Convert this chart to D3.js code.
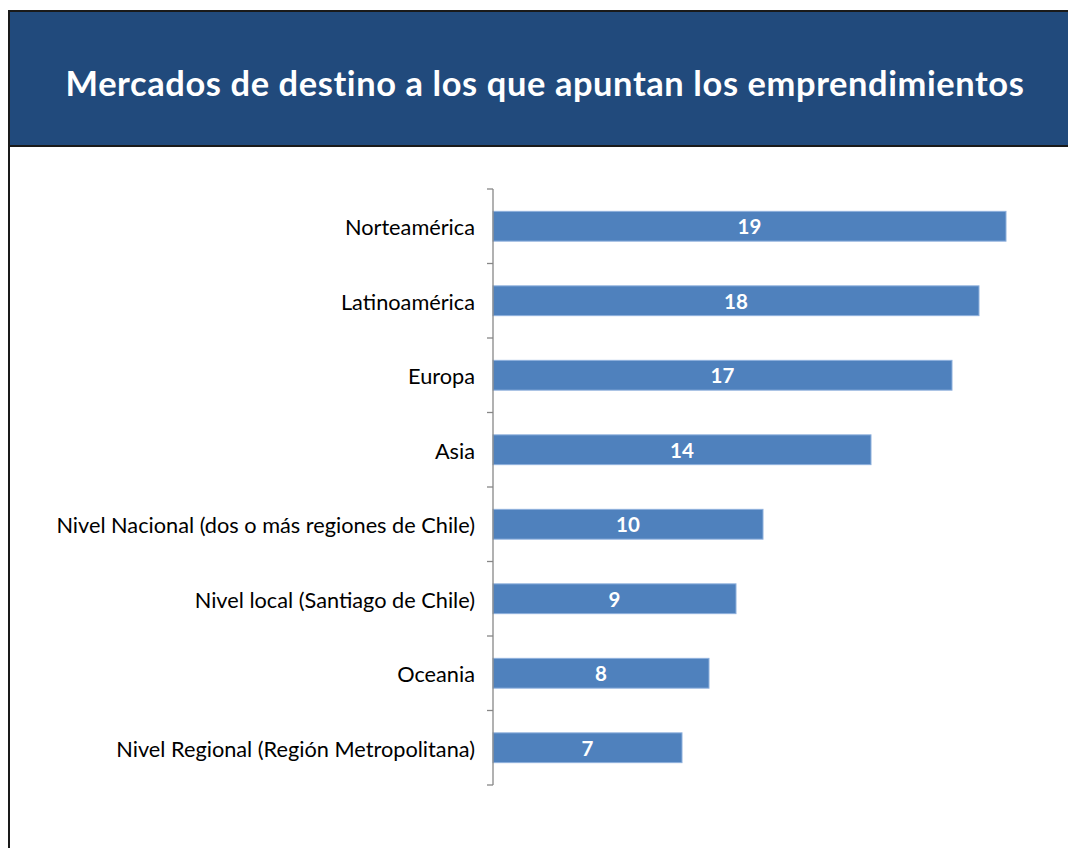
<!DOCTYPE html>
<html>
<head>
<meta charset="utf-8">
<script src="https://cdn.jsdelivr.net/npm/d3@7"></script>
<style>
  body { margin: 0; background: #fff; }
  svg { display: block; }
</style>
</head>
<body>
<svg id="chart" width="1068" height="848"></svg>
<script>
// data
var categories = [
  "Norteamérica",
  "Latinoamérica",
  "Europa",
  "Asia",
  "Nivel Nacional (dos o más regiones de Chile)",
  "Nivel local (Santiago de Chile)",
  "Oceania",
  "Nivel Regional (Región Metropolitana)"
];
var values = [19, 18, 17, 14, 10, 9, 8, 7];
var title = "Mercados de destino a los que apuntan los emprendimientos";

var font = "'Century Gothic', 'URW Gothic', Lato, 'DejaVu Sans', sans-serif";

var svg = d3.select("#chart");

// header band
svg.append("rect")
  .attr("x", 9).attr("y", 11)
  .attr("width", 1070).attr("height", 135)
  .attr("fill", "#214a7c")
  .attr("stroke", "#1a1a1a")
  .attr("stroke-width", 2);

// left frame line below header
svg.append("line")
  .attr("x1", 9).attr("x2", 9)
  .attr("y1", 146).attr("y2", 848)
  .attr("stroke", "#1a1a1a")
  .attr("stroke-width", 2);

var t = svg.append("text")
  .attr("x", 545).attr("y", 96)
  .attr("text-anchor", "middle")
  .attr("fill", "#fff")
  .attr("font-family", font)
  .attr("font-weight", "bold")
  .attr("font-size", 31)
  .attr("letter-spacing", 0.6)
  .text(title);

// fit title width to the original (~963px)
var tw = t.node().getComputedTextLength();
if (tw > 0) t.attr("font-size", 31 * 963 / tw);

var margin = {left: 493, top: 189};
var plotH = 785 - 189;

var x = d3.scaleLinear().domain([0, 19]).range([0, 513]);
var y = d3.scaleBand().domain(categories).range([0, plotH]).paddingInner(0.6).paddingOuter(0.3);

var g = svg.append("g").attr("transform", "translate(" + margin.left + "," + margin.top + ")");

g.selectAll("rect.bar")
  .data(values)
  .join("rect")
  .attr("class", "bar")
  .attr("x", 0)
  .attr("y", function(d, i) { return y(categories[i]); })
  .attr("width", function(d) { return x(d); })
  .attr("height", y.bandwidth())
  .attr("fill", "#4f81bd")
  .attr("stroke", "#8eb0dc")
  .attr("stroke-width", 1);

g.selectAll("text.val")
  .data(values)
  .join("text")
  .attr("class", "val")
  .attr("x", function(d) { return x(d) / 2; })
  .attr("y", function(d, i) { return y(categories[i]) + y.bandwidth() / 2; })
  .attr("dy", "0.38em")
  .attr("text-anchor", "middle")
  .attr("fill", "#fff")
  .attr("font-family", font)
  .attr("font-weight", "bold")
  .attr("font-size", 20.5)
  .text(function(d) { return d; });

// category axis: ticks sit between categories
var step = plotH / categories.length;
var axis = g.append("g");
axis.append("line")
  .attr("x1", 0).attr("x2", 0)
  .attr("y1", 0).attr("y2", plotH)
  .attr("stroke", "#878787").attr("stroke-width", 1.3);
axis.selectAll("line.tick")
  .data(d3.range(categories.length + 1))
  .join("line")
  .attr("class", "tick")
  .attr("x1", -6).attr("x2", 0)
  .attr("y1", function(i) { return i * step; })
  .attr("y2", function(i) { return i * step; })
  .attr("stroke", "#878787").attr("stroke-width", 1.3);

var labels = axis.selectAll("text.lab")
  .data(categories)
  .join("text")
  .attr("class", "lab")
  .attr("x", -18)
  .attr("y", function(d) { return y(d) + y.bandwidth() / 2; })
  .attr("dy", "0.42em")
  .attr("text-anchor", "end")
  .attr("fill", "#000")
  .attr("font-family", font)
  .attr("font-size", 18)
  .text(function(d) { return d; });

// size labels so the longest one matches the original (~419px)
var lw = labels.nodes()[4].getComputedTextLength();
if (lw > 0) labels.attr("font-size", 18 * 419 / lw);
</script>
</body>
</html>
